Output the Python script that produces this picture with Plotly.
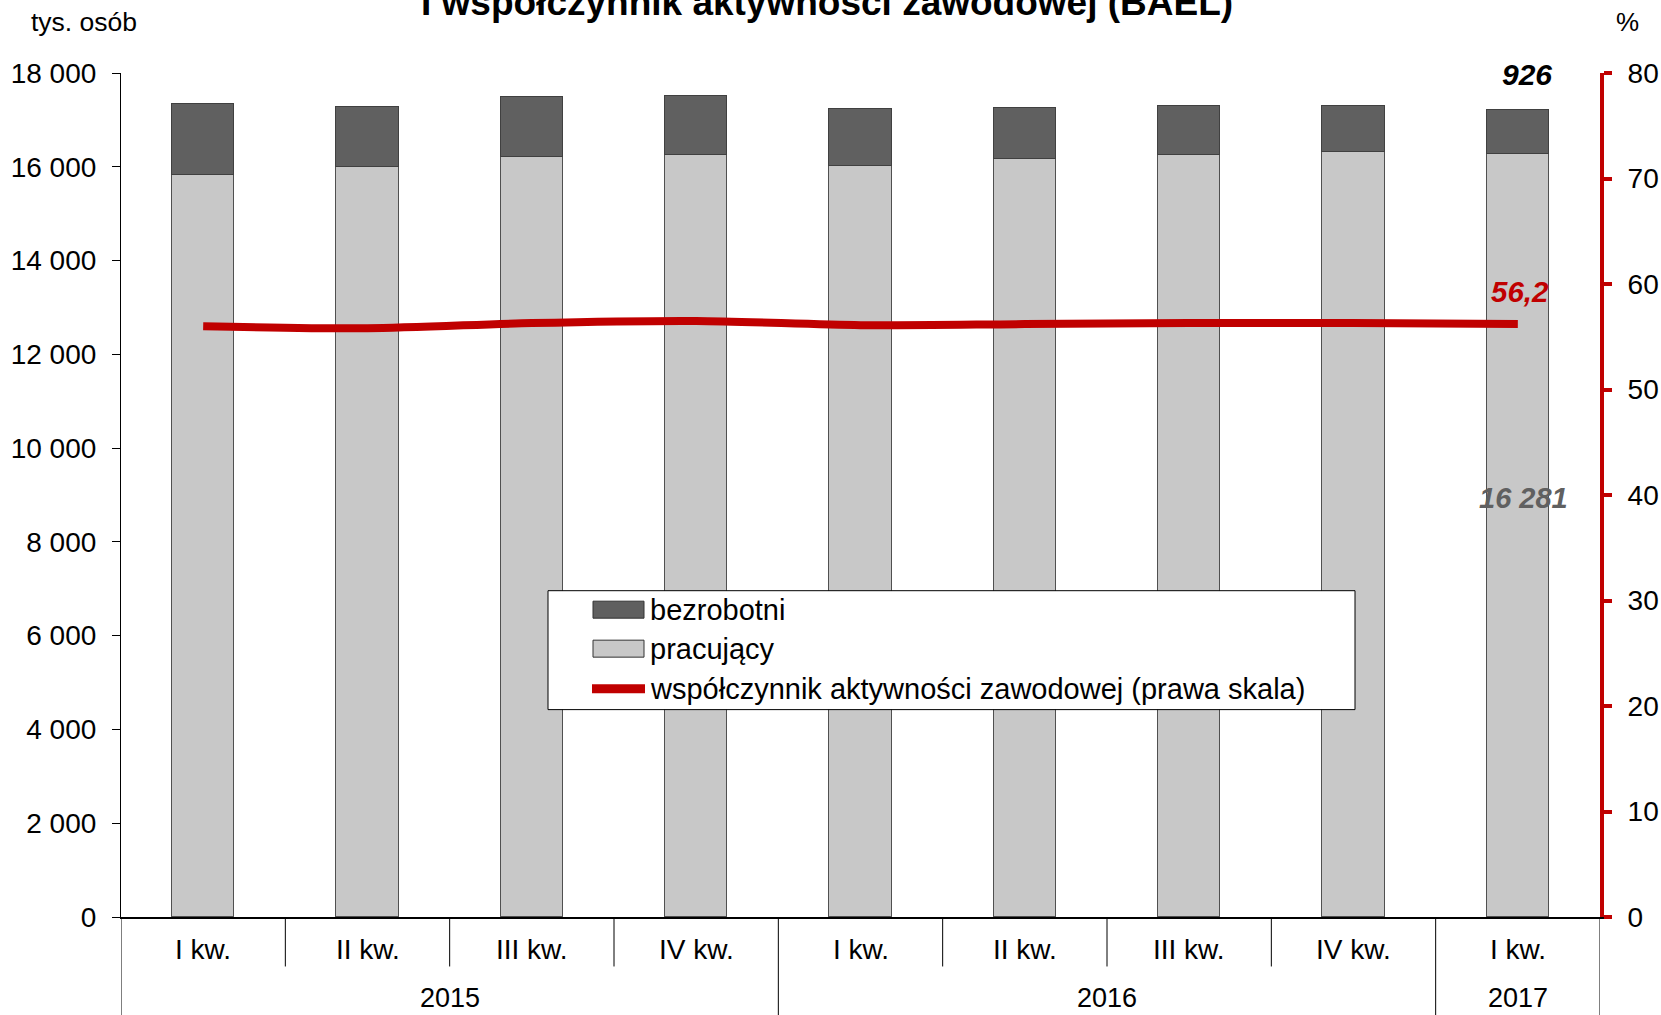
import plotly.graph_objects as go

# ---------------- data ----------------
quarters = ["I kw.", "II kw.", "III kw.", "IV kw.", "I kw.", "II kw.", "III kw.", "IV kw.", "I kw."]
years = ["2015", "2016", "2017"]
year_of_quarter = ["2015", "2015", "2015", "2015", "2016", "2016", "2016", "2016", "2017"]
pracujacy = [15830, 15990, 16215, 16260, 16010, 16170, 16260, 16305, 16281]
bezrobotni = [1515, 1290, 1265, 1240, 1220, 1085, 1040, 995, 926]
wspolczynnik = [56.0, 55.8, 56.3, 56.5, 56.1, 56.2, 56.3, 56.3, 56.2]

left_ticks = list(range(0, 18001, 2000))
right_ticks = list(range(0, 81, 10))

# ---------------- layout geometry (page pixels) ----------------
PAGE_W, PAGE_H = 1661, 1015
W, H = PAGE_W, PAGE_H
AX_L, AX_R, AX_T, AX_B = 121, 1600, 73, 917.5   # page pixel positions of plot area
ML, MR, MT, MB = AX_L, PAGE_W - AX_R, AX_T, PAGE_H - AX_B
PW, PH = W - ML - MR, H - MT - MB
FONT = "Liberation Sans, Arial, sans-serif"
RED = "#c00000"
DARK = "#606060"
LIGHT = "#c8c8c8"


def px(x):
    return (x - AX_L) / PW


def py(y):
    return (AX_B - y) / PH


idx = list(range(len(quarters)))

fig = go.Figure()
fig.add_trace(go.Bar(
    x=idx, y=pracujacy, name="pracujący", marker=dict(color=LIGHT, line=dict(color="#505050", width=1.5)),
    width=0.38, showlegend=False,
))
fig.add_trace(go.Bar(
    x=idx, y=bezrobotni, name="bezrobotni", marker=dict(color=DARK, line=dict(color="#404040", width=1.5)),
    width=0.38, showlegend=False,
))
fig.add_trace(go.Scatter(
    x=idx, y=wspolczynnik, yaxis="y2", mode="lines", name="współczynnik aktywności zawodowej (prawa skala)",
    line=dict(color=RED, width=8, shape="spline", smoothing=0.8), showlegend=False,
))

shapes = []
annotations = []

# category dividers
for i in range(len(idx) + 1):
    xb = i - 0.5
    long_div = (i == 0) or (i == len(idx)) or (year_of_quarter[i - 1] != year_of_quarter[i])
    y_end = PAGE_H + 2 if long_div else 967
    shapes.append(dict(type="line", xref="x", yref="paper", x0=xb, x1=xb, y0=py(AX_B), y1=py(y_end),
                       line=dict(color="black", width=1)))

# quarter labels
for i, q in enumerate(quarters):
    annotations.append(dict(x=i, xref="x", y=py(950), yref="paper", text=q, showarrow=False,
                            font=dict(family=FONT, size=28, color="black"), xanchor="center", yanchor="middle"))

# year labels
for yr in years:
    members = [i for i in idx if year_of_quarter[i] == yr]
    annotations.append(dict(x=sum(members) / len(members), xref="x", y=py(999), yref="paper", text=yr,
                            showarrow=False, font=dict(family=FONT, size=27, color="black"),
                            xanchor="center", yanchor="middle"))

# title (partially cut at top)
annotations.append(dict(x=px(827), y=py(2), xref="paper", yref="paper",
                        text="<b>I współczynnik aktywności zawodowej (BAEL)</b>", showarrow=False,
                        font=dict(family=FONT, size=37, color="black"), xanchor="center", yanchor="middle"))
# axis units
annotations.append(dict(x=px(84), y=py(22), xref="paper", yref="paper", text="tys. osób", showarrow=False,
                        font=dict(family=FONT, size=26.5, color="black"), xanchor="center", yanchor="middle"))
annotations.append(dict(x=px(1627), y=py(22), xref="paper", yref="paper", text="%", showarrow=False,
                        font=dict(family=FONT, size=26, color="black"), xanchor="center", yanchor="middle"))

# value labels for the last quarter
last = len(idx) - 1
annotations.append(dict(x=px(1527), y=py(75), xref="paper", yref="paper",
                        text=f"<b><i>{bezrobotni[last]}</i></b>", showarrow=False,
                        font=dict(family=FONT, size=30, color="black"), xanchor="center", yanchor="middle"))
annotations.append(dict(x=px(1520), y=py(292), xref="paper", yref="paper",
                        text="<b><i>" + f"{wspolczynnik[last]:.1f}".replace(".", ",") + "</i></b>",
                        showarrow=False, font=dict(family=FONT, size=29.5, color=RED), xanchor="center",
                        yanchor="middle"))
annotations.append(dict(x=px(1523), y=py(498), xref="paper", yref="paper",
                        text="<b><i>" + f"{pracujacy[last]:,}".replace(",", " ") + "</i></b>",
                        showarrow=False, font=dict(family=FONT, size=29, color=DARK), xanchor="center",
                        yanchor="middle"))

# manual legend
shapes.append(dict(type="rect", xref="paper", yref="paper", x0=px(548), x1=px(1355), y0=py(591), y1=py(710),
                   fillcolor="white", line=dict(color="black", width=1), layer="above"))
legend_items = [("bezrobotni", "bar", DARK, 610), ("pracujący", "bar", LIGHT, 649),
                ("współczynnik aktywności zawodowej (prawa skala)", "line", RED, 689)]
for label, kind, col, yc in legend_items:
    if kind == "bar":
        shapes.append(dict(type="rect", xref="paper", yref="paper", x0=px(593), x1=px(644), y0=py(yc - 8.5),
                           y1=py(yc + 8.5), fillcolor=col, line=dict(color="#333333", width=1), layer="above"))
    else:
        shapes.append(dict(type="line", xref="paper", yref="paper", x0=px(592), x1=px(645), y0=py(yc), y1=py(yc),
                           line=dict(color=col, width=9), layer="above"))
    annotations.append(dict(x=px(648), y=py(yc), xref="paper", yref="paper", text=label, showarrow=False,
                            font=dict(family=FONT, size=29, color="black"), xanchor="left", yanchor="middle"))

fig.update_layout(
    width=W, height=H, autosize=False,
    margin=dict(l=ML, r=MR, t=MT, b=MB, pad=0, autoexpand=False),
    paper_bgcolor="white", plot_bgcolor="white",
    barmode="stack", bargap=0,
    separators=", ",
    font=dict(family=FONT, size=28, color="black"),
    xaxis=dict(range=[-0.5, len(idx) - 0.5], showticklabels=False, ticks="", showgrid=False, zeroline=False,
               showline=True, linecolor="black", linewidth=1.5, fixedrange=True, automargin=False),
    yaxis=dict(range=[0, 18000], tickvals=left_ticks, tickformat=",.0f", showgrid=False, zeroline=False,
               showline=True, linecolor="black", linewidth=1.2, ticks="outside", ticklen=8, tickcolor="black",
               tickwidth=1.2, tickfont=dict(family=FONT, size=28, color="black"), ticklabelstandoff=10,
               automargin=False),
    yaxis2=dict(range=[0, 80], tickvals=right_ticks, overlaying="y", side="right", showgrid=False,
                zeroline=False, showline=True, linecolor=RED, linewidth=4, ticks="outside", ticklen=8,
                tickcolor=RED, tickwidth=4, tickfont=dict(family=FONT, size=28, color="black"),
                ticklabelstandoff=10, automargin=False),
    shapes=shapes,
    annotations=annotations,
    showlegend=False,
)

fig.write_html(
    "out.html",
    config={"displayModeBar": False},
    post_script="document.body.style.margin='0';document.body.style.overflow='hidden';",
)
